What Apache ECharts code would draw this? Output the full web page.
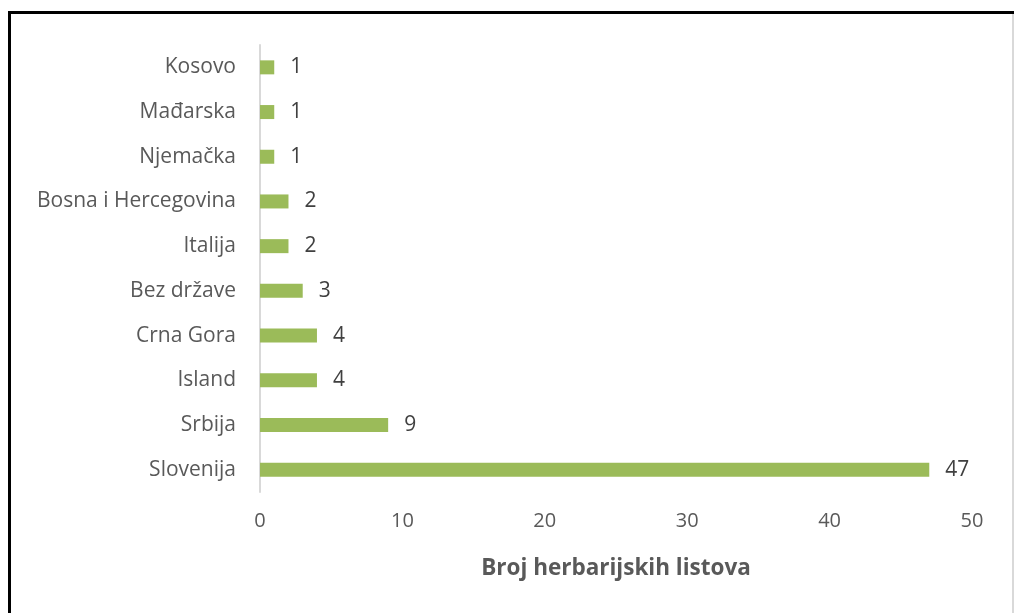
<!DOCTYPE html>
<html>
<head>
<meta charset="utf-8">
<script src="https://cdn.jsdelivr.net/npm/echarts@6/dist/echarts.min.js"></script>
<style>
html,body{margin:0;padding:0;background:#fff;}
#c{width:1015px;height:613px;}
</style>
</head>
<body>
<div id="c"></div>
<script>
const categories = ["Kosovo","Mađarska","Njemačka","Bosna i Hercegovina","Italija","Bez države","Crna Gora","Island","Srbija","Slovenija"];
const values = [1,1,1,2,2,3,4,4,9,47];
const axisTitle = "Broj herbarijskih listova";

const chart = echarts.init(document.getElementById('c'), null, {renderer:'canvas'});
const font = "'Open Sans', 'Liberation Sans', sans-serif";
chart.setOption({
  backgroundColor: '#ffffff',
  animation: false,
  grid: {left: 260, right: 43, top: 45, bottom: 121, containLabel: false},
  xAxis: {
    type: 'value', min: 0, max: 50, interval: 10,
    axisLine: {show: false}, axisTick: {show: false}, splitLine: {show: false},
    axisLabel: {color: '#595959', fontSize: 20, fontFamily: font, margin: 19},
    name: axisTitle, nameLocation: 'middle', nameGap: 65,
    nameTextStyle: {color: '#595959', fontSize: 22.5, fontWeight: 'bold', fontFamily: font}
  },
  yAxis: {
    type: 'category', data: categories, inverse: true,
    axisLine: {show: true, lineStyle: {color: '#d9d9d9', width: 2}},
    axisTick: {show: false},
    axisLabel: {color: '#595959', fontSize: 21, fontFamily: font, margin: 24}
  },
  series: [{
    type: 'bar', data: values, barWidth: 14,
    itemStyle: {color: '#9bbb59'},
    label: {show: true, position: 'right', distance: 16, color: '#404040', fontSize: 21, fontFamily: font}
  }],
  graphic: [
    {type: 'rect', shape: {x: 8, y: 11, width: 1006, height: 3}, style: {fill: '#000'}},
    {type: 'rect', shape: {x: 8, y: 11, width: 3, height: 602}, style: {fill: '#000'}},
    {type: 'rect', shape: {x: 1012, y: 14, width: 2, height: 599}, style: {fill: '#d9d9d9'}}
  ]
});
</script>
</body>
</html>
